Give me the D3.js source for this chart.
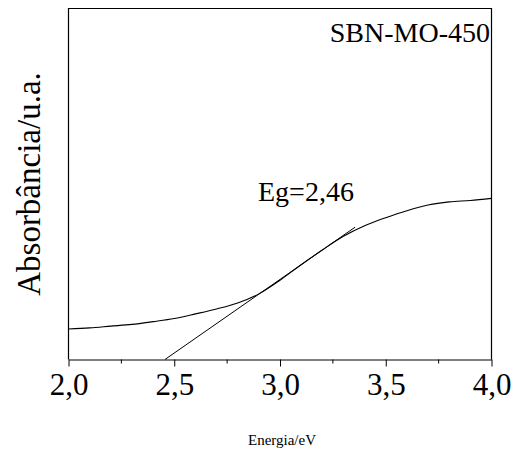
<!DOCTYPE html>
<html>
<head>
<meta charset="utf-8">
<script src="https://cdn.jsdelivr.net/npm/d3@7"></script>
<style>
  body { margin: 0; background: #fff; }
</style>
</head>
<body>
<div id="chart"></div>
<script>
// energy (eV) and absorbance (a.u.)
var energy = [2.0, 2.1, 2.2, 2.3, 2.4, 2.5, 2.6, 2.7, 2.8, 2.9, 3.0,
              3.1, 3.2, 3.3, 3.4, 3.5, 3.6, 3.7, 3.8, 3.9, 4.0];
var absorb = [0.087, 0.090, 0.095, 0.100, 0.108, 0.117, 0.130, 0.144, 0.161, 0.187, 0.226,
              0.270, 0.312, 0.351, 0.381, 0.404, 0.424, 0.440, 0.449, 0.453, 0.459];
// tangent used to find the band gap
var tangentX = [2.456, 3.355];
var tangentY = [0.0, 0.377];
var xTicks = [2.0, 2.5, 3.0, 3.5, 4.0];
var xMinor = [2.25, 2.75, 3.25, 3.75];

var W = 523, H = 452;
var margin = { t: 8.5, r: 31.5, b: 92.5, l: 68.5 };
var FONT = "Liberation Serif";

var x = d3.scaleLinear().domain([2, 4]).range([margin.l, W - margin.r]);
var y = d3.scaleLinear().domain([0, 1]).range([H - margin.b, margin.t]);

var svg = d3.select("#chart").append("svg")
  .attr("width", W)
  .attr("height", H);

var fmt = function (d) { return d3.format(".1f")(d).replace(".", ","); };

// bottom axis
var xAxis = d3.axisBottom(x).tickValues(xTicks).tickFormat(fmt).tickSizeInner(7).tickSizeOuter(0);
var gx = svg.append("g")
  .attr("transform", "translate(0," + y(0) + ")")
  .call(xAxis);
gx.select(".domain").attr("stroke", "#000");
gx.selectAll(".tick line").attr("stroke", "#000");
gx.selectAll(".tick text")
  .style("font-family", FONT)
  .style("font-size", "31px")
  .attr("fill", "#000")
  .attr("dy", 0)
  .attr("y", 35);

// minor ticks
svg.append("g").selectAll("line")
  .data(xMinor)
  .enter()
  .append("line")
  .attr("x1", function (d) { return x(d); })
  .attr("x2", function (d) { return x(d); })
  .attr("y1", y(0))
  .attr("y2", y(0) + 4)
  .attr("stroke", "#000");

// frame: left, top, right
svg.append("path")
  .attr("d", "M" + x(2) + "," + y(0) + "V" + y(1) + "H" + x(4) + "V" + y(0))
  .attr("fill", "none")
  .attr("stroke", "#000")
  .attr("stroke-width", 1.2);

// absorbance curve
var line = d3.line()
  .x(function (d, i) { return x(energy[i]); })
  .y(function (d) { return y(d); })
  .curve(d3.curveMonotoneX);

svg.append("path")
  .datum(absorb)
  .attr("d", line)
  .attr("fill", "none")
  .attr("stroke", "#000")
  .attr("stroke-width", 1.1);

// tangent
svg.append("line")
  .attr("x1", x(tangentX[0]))
  .attr("y1", y(tangentY[0]))
  .attr("x2", x(tangentX[1]))
  .attr("y2", y(tangentY[1]))
  .attr("stroke", "#000")
  .attr("stroke-width", 1);

// labels
function label(txt, px, py, size, anchor) {
  return svg.append("text")
    .attr("x", px)
    .attr("y", py)
    .attr("text-anchor", anchor)
    .style("font-family", FONT)
    .style("font-size", size + "px")
    .text(txt);
}

label("SBN-MO-450", 490, 42, 28, "end");
label("Eg=2,46", 258, 201, 28, "start");
label("Energia/eV", (x(2) + x(4)) / 2 + 2, 445, 15, "middle");
label("Absorbância/u.a.", 0, 0, 33, "middle")
  .attr("transform", "translate(40," + (y(0) + y(1)) / 2 + ") rotate(-90)");
</script>
</body>
</html>
